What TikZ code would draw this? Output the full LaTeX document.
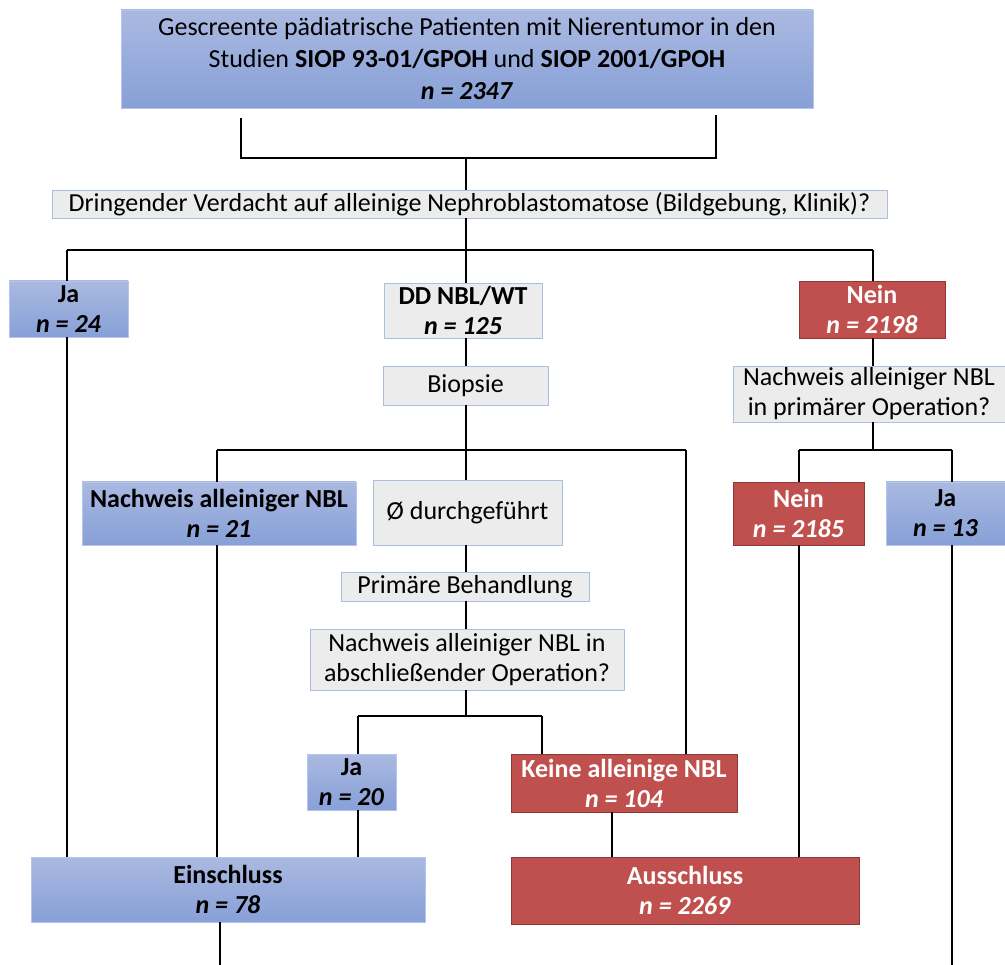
\documentclass[tikz,border=0pt]{standalone}
\usepackage{fontspec}
\setmainfont{Carlito}
\begin{document}
\begin{tikzpicture}[x=1pt,y=-1pt,
  every node/.style={inner sep=0pt, outer sep=0pt, align=center, font=\fontsize{26}{30}\selectfont},
  bluebox/.style={rectangle, draw=boxrim, line width=0.8pt, shading=axis,
    top color=blueTop, bottom color=blueBot},
  redbox/.style={rectangle, draw=redrim, line width=0.8pt, fill=redFill, text=white},
  graybox/.style={rectangle, draw=grayrim, line width=0.6pt, fill=grayFill},
  conn/.style={draw=black, line width=1.4pt}]
\definecolor{blueTop}{RGB}{170,185,225}
\definecolor{blueBot}{RGB}{135,160,215}
\definecolor{boxrim}{RGB}{180,198,235}
\definecolor{redFill}{RGB}{192,80,77}
\definecolor{redrim}{RGB}{140,56,54}
\definecolor{grayFill}{RGB}{236,236,236}
\definecolor{grayrim}{RGB}{170,190,228}

\useasboundingbox (0,0) rectangle (1005,965);

% boxes
\node[bluebox, minimum width=692pt, minimum height=98pt, font=\fontsize{26}{32}\selectfont] (top) at (467,59)
  {Gescreente pädiatrische Patienten mit Nierentumor in den\\Studien \textbf{SIOP 93-01/GPOH} und \textbf{SIOP 2001/GPOH}\\\textbf{\textit{n = 2347}}};
\node[graybox, minimum width=835pt, minimum height=28pt] (q1) at (469.5,204)
  {Dringender Verdacht auf alleinige Nephroblastomatose (Bildgebung, Klinik)?};
\node[bluebox, minimum width=119pt, minimum height=56pt] (ja24) at (68.5,309)
  {\textbf{Ja}\\\textbf{\textit{n = 24}}};
\node[graybox, minimum width=158pt, minimum height=55pt] (dd) at (463,310.5)
  {\textbf{DD NBL/WT}\\\textbf{\textit{n = 125}}};
\node[redbox, minimum width=146pt, minimum height=57pt] (nein1) at (872,309.5)
  {\textbf{Nein}\\\textbf{\textit{n = 2198}}};
\node[graybox, minimum width=165pt, minimum height=39pt] (biop) at (465.5,385.5) {Biopsie};
\node[graybox, minimum width=272pt, minimum height=56pt] (q2) at (869,394)
  {Nachweis alleiniger NBL\\in primärer Operation?};
\node[bluebox, minimum width=274pt, minimum height=63pt] (n21) at (219,513.5)
  {\textbf{Nachweis alleiniger NBL}\\\textbf{\textit{n = 21}}};
\node[graybox, minimum width=189pt, minimum height=65pt] (osl) at (467.5,512.5) {Ø durchgeführt};
\node[redbox, minimum width=131pt, minimum height=63pt] (nein2) at (798.5,513.5)
  {\textbf{Nein}\\\textbf{\textit{n = 2185}}};
\node[bluebox, minimum width=119pt, minimum height=63pt] (ja13) at (945.5,513.5)
  {\textbf{Ja}\\\textbf{\textit{n = 13}}};
\node[graybox, minimum width=248pt, minimum height=29pt] (prim) at (465,586.5) {Primäre Behandlung};
\node[graybox, minimum width=314pt, minimum height=61pt] (q3) at (467,659.5)
  {Nachweis alleiniger NBL in\\abschließender Operation?};
\node[bluebox, minimum width=89pt, minimum height=56pt] (ja20) at (351.5,782)
  {\textbf{Ja}\\\textbf{\textit{n = 20}}};
\node[redbox, minimum width=226pt, minimum height=58pt] (keine) at (624,783)
  {\textbf{Keine alleinige NBL}\\\textbf{\textit{n = 104}}};
\node[bluebox, minimum width=394pt, minimum height=65pt] (ein) at (228,889.5)
  {\textbf{Einschluss}\\\textbf{\textit{n = 78}}};
\node[redbox, minimum width=348pt, minimum height=67pt] (aus) at (685,890.5)
  {\textbf{Ausschluss}\\\textbf{\textit{n = 2269}}};

% junction points of the branching connectors
\coordinate (bl) at (241,158);
\coordinate (br) at (716,158);
\coordinate (bm) at (466,158);
\coordinate (j1) at (466,250);
\coordinate (j1l) at (67,250);
\coordinate (j1r) at (873,250);
\coordinate (j2) at (466,450);
\coordinate (j2l) at (217,450);
\coordinate (j2r) at (686,450);
\coordinate (j3) at (466,716);
\coordinate (j3l) at (358,716);
\coordinate (j3r) at (542,716);
\coordinate (j4) at (873,450);
\coordinate (j4l) at (799,450);
\coordinate (j4r) at (952,450);
\coordinate (k) at (612,830);
\coordinate (endl) at (220,965);
\coordinate (endr) at (952,965);

% bracket under the first box
\draw[conn] ([yshift=-10pt]top.south -| bl) -- (bl) -- (br) -- ([yshift=-7pt]top.south -| br);
\draw[conn] (bm) -- (bm |- q1.north);

% first branching
\draw[conn] (q1.south -| j1) -- (j1);
\draw[conn] (j1l) -- (j1r);
\draw[conn] (j1l) -- (j1l |- ja24.north);
\draw[conn] (j1) -- (j1 |- dd.north);
\draw[conn] (j1r) -- (j1r |- nein1.north);
\draw[conn] (ja24.south -| j1l) -- (j1l |- ein.north);

% middle column
\draw[conn] (dd.south -| j1) -- (j1 |- biop.north);
\draw[conn] (biop.south -| j2) -- (j2);
\draw[conn] (j2l) -- (j2r);
\draw[conn] (j2l) -- (j2l |- n21.north);
\draw[conn] (j2) -- (j2 |- osl.north);
\draw[conn] (j2r) -- (j2r |- keine.north);
\draw[conn] (n21.south -| j2l) -- (j2l |- ein.north);
\draw[conn] (osl.south -| j2) -- (j2 |- prim.north);
\draw[conn] (prim.south -| j2) -- (j2 |- q3.north);
\draw[conn] (q3.south -| j3) -- (j3);
\draw[conn] (j3l) -- (j3r);
\draw[conn] (j3l) -- (j3l |- ja20.north);
\draw[conn] (j3r) -- (j3r |- keine.north);
\draw[conn] (ja20.south -| j3l) -- (j3l |- ein.north);
\draw[conn] (keine.south -| k) -- (k |- aus.north);

% right column
\draw[conn] (nein1.south -| j4) -- (j4 |- q2.north);
\draw[conn] (q2.south -| j4) -- (j4);
\draw[conn] (j4l) -- (j4r);
\draw[conn] (j4l) -- (j4l |- nein2.north);
\draw[conn] (j4r) -- (j4r |- ja13.north);
\draw[conn] (nein2.south -| j4l) -- (j4l |- aus.north);
\draw[conn] (ja13.south -| j4r) -- (endr);

% outgoing line below the inclusion box
\draw[conn] (ein.south -| endl) -- (endl);
\end{tikzpicture}
\end{document}
